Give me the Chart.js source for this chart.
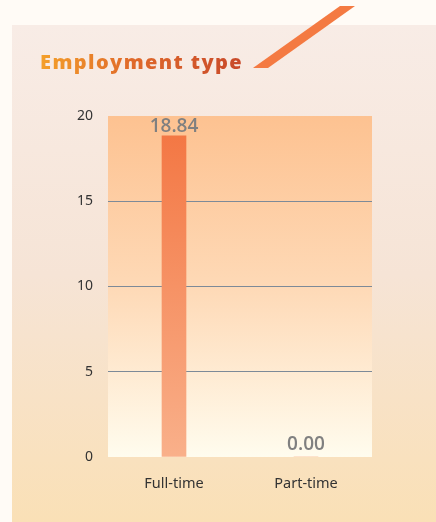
<!DOCTYPE html>
<html>
<head>
<meta charset="utf-8">
<script src="https://cdn.jsdelivr.net/npm/chart.js@4"></script>
<style>
    html, body { margin: 0; padding: 0; }
    body {
        width: 436px;
        height: 522px;
        background: #fffbf6;
        position: relative;
        overflow: hidden;
        font-family: 'Open Sans', sans-serif;
    }
    .panel {
        position: absolute;
        left: 12px;
        top: 25px;
        right: 0;
        bottom: 0;
        background: linear-gradient(to bottom, #f8ece6 0%, #f6e4d6 50%, #fae0b6 100%);
    }
    .title {
        position: absolute;
        left: 40px;
        top: 48px;
        font-size: 20px;
        font-weight: 800;
        letter-spacing: 1.4px;
        background: linear-gradient(to right, #f4a02a 0%, #e06a2a 45%, #c8492a 100%);
        -webkit-background-clip: text;
        background-clip: text;
        color: transparent;
        white-space: nowrap;
    }
    .slash { position: absolute; left: 0; top: 0; }
    #chartWrap { position: absolute; left: 0; top: 0; width: 436px; height: 522px; }
</style>
</head>
<body>
<div class="panel"></div>
<svg class="slash" width="436" height="80">
    <polygon points="253,68 268,68 355,6 340,6" fill="#f47a42"/>
</svg>
<div class="title">Employment type</div>
<div id="chartWrap"><canvas id="employmentChart" width="436" height="522"></canvas></div>

<script>
// Hours by employment type
const categories = ['Full-time', 'Part-time'];
const hours = [18.84, 0];
const yTicks = [0, 5, 10, 15, 20];

const colorGrid = '#7d8a98';
const colorTick = '#333333';
const colorValue = '#808080';

// Plot area gradient behind the bars
const plotBackground = {
    id: 'plotBackground',
    beforeDraw(chart) {
        const { ctx, chartArea: a } = chart;
        const g = ctx.createLinearGradient(0, a.top, 0, a.bottom);
        g.addColorStop(0, '#fdc291');
        g.addColorStop(0.5, '#fed9b6');
        g.addColorStop(1, '#fffcee');
        ctx.save();
        ctx.fillStyle = g;
        ctx.fillRect(a.left, a.top, a.right - a.left, a.bottom - a.top);
        ctx.restore();
    }
};

// Value printed above each bar
const valueLabels = {
    id: 'valueLabels',
    afterDatasetsDraw(chart) {
        const { ctx } = chart;
        const meta = chart.getDatasetMeta(0);
        ctx.save();
        ctx.font = "600 19px 'Open Sans', sans-serif";
        ctx.fillStyle = colorValue;
        ctx.textAlign = 'center';
        ctx.textBaseline = 'alphabetic';
        meta.data.forEach((bar, i) => {
            const v = chart.data.datasets[0].data[i];
            const gap = v > 0 ? 4 : 7;
            ctx.fillText(v.toFixed(2), bar.x, bar.y - gap);
        });
        ctx.restore();
    }
};

function barGradient(context) {
    const chart = context.chart;
    const a = chart.chartArea;
    if (!a) return '#f58a58';
    const g = chart.ctx.createLinearGradient(0, a.top, 0, a.bottom);
    g.addColorStop(0, '#f37440');
    g.addColorStop(1, '#f9b08a');
    return g;
}

new Chart(document.getElementById('employmentChart'), {
    type: 'bar',
    data: {
        labels: categories,
        datasets: [{
            data: hours,
            backgroundColor: barGradient,
            borderWidth: 0,
            barThickness: 24
        }]
    },
    plugins: [plotBackground, valueLabels],
    options: {
        responsive: false,
        animation: false,
        layout: {
            padding: { left: 12, right: 64, top: 116, bottom: 20 }
        },
        plugins: {
            legend: { display: false },
            tooltip: { enabled: false }
        },
        scales: {
            y: {
                min: 0,
                max: 20,
                afterFit(scale) { scale.width = 96; },
                afterBuildTicks(scale) { scale.ticks = yTicks.map(v => ({ value: v })); },
                grid: {
                    drawTicks: false,
                    color: (c) => (c.tick && (c.tick.value === 0 || c.tick.value === 20)) ? 'rgba(0,0,0,0)' : colorGrid,
                    lineWidth: 1
                },
                border: { display: false },
                ticks: {
                    padding: 15,
                    color: colorTick,
                    font: { size: 14, family: "'Noto Sans', sans-serif" }
                }
            },
            x: {
                afterFit(scale) { scale.height = 45; },
                grid: { display: false, drawTicks: false },
                border: { display: false },
                ticks: {
                    padding: 18,
                    color: colorTick,
                    font: { size: 14.5, family: "'Noto Sans', sans-serif" }
                }
            }
        }
    }
});
</script>
</body>
</html>
